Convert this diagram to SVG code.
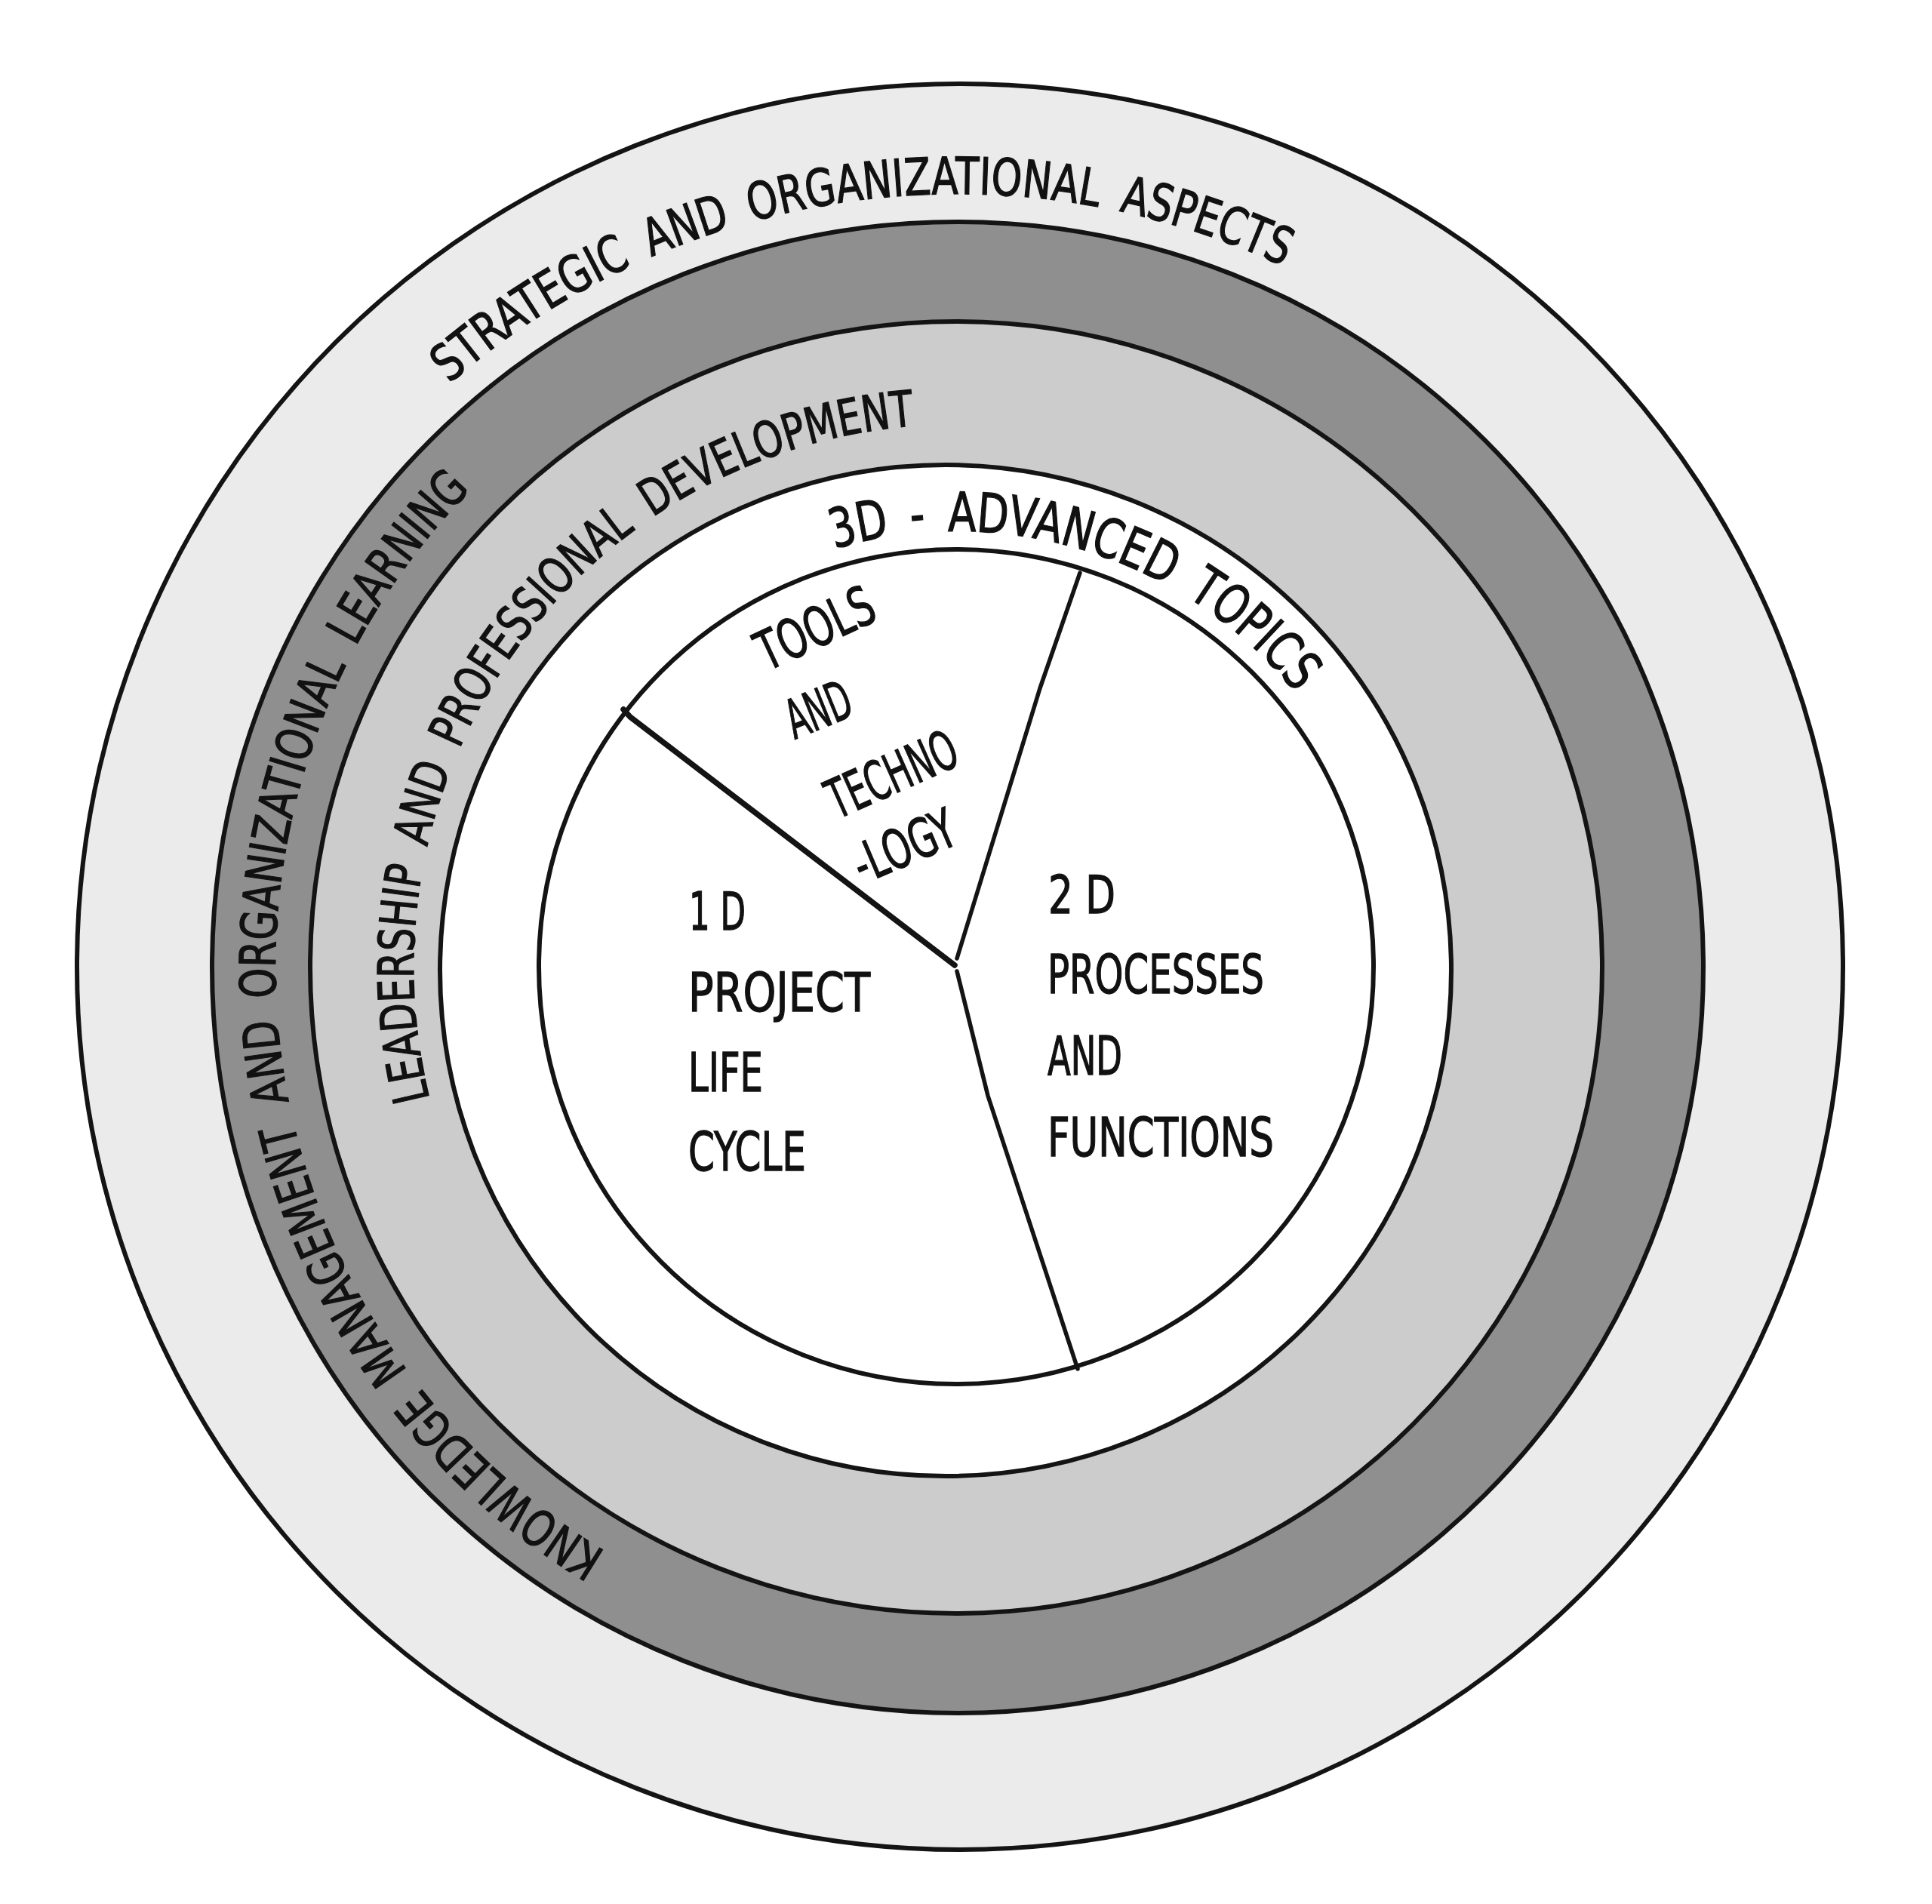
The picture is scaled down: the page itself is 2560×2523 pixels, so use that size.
<svg xmlns="http://www.w3.org/2000/svg" width="2560" height="2523" viewBox="0 0 2560 2523">
<style>
.ring{stroke:#141414;stroke-width:6}
.lbl{font-family:"Liberation Sans Narrow","DejaVu Sans Condensed","Liberation Sans",sans-serif;fill:#111111;stroke:#111111;stroke-width:1.3}
.pie{fill:none;stroke:#141414;stroke-width:5.5;stroke-linecap:round;stroke-linejoin:round}
</style>
<defs>
<path id="arc-strategic" d="M 471.5 637.0 A 1025 1025 0 0 1 1855.9 442.3"/>
<path id="arc-knowledge" d="M 944.4 2125.0 A 903 903 0 0 1 743.6 546.9"/>
<path id="arc-leadership" d="M 610.3 1574.8 A 720 720 0 0 1 1337.0 565.3"/>
<path id="arc-advanced" d="M 1011.9 763.8 A 578 578 0 0 1 1773.5 1001.8"/>
</defs>
<rect width="2560" height="2523" fill="#ffffff"/>

<g id="ring-strategic">
<circle class="ring" cx="1272" cy="1281" r="1170" fill="#ebebeb"/>
<text class="lbl" font-size="68"><textPath href="#arc-strategic" startOffset="178.9" textLength="288.8" lengthAdjust="spacingAndGlyphs">STRATEGIC</textPath></text>
<text class="lbl" font-size="68"><textPath href="#arc-strategic" startOffset="496.0" textLength="112.8" lengthAdjust="spacingAndGlyphs">AND</textPath></text>
<text class="lbl" font-size="68"><textPath href="#arc-strategic" startOffset="637.1" textLength="463.0" lengthAdjust="spacingAndGlyphs">ORGANIZATIONAL</textPath></text>
<text class="lbl" font-size="68"><textPath href="#arc-strategic" startOffset="1128.4" textLength="230.5" lengthAdjust="spacingAndGlyphs">ASPECTS</textPath></text>
</g>

<g id="ring-knowledge">
<circle class="ring" cx="1269" cy="1282" r="988" fill="#8f8f8f"/>
<text class="lbl" font-size="66"><textPath href="#arc-knowledge" startOffset="157.6" textLength="329.5" lengthAdjust="spacingAndGlyphs">KNOWLEDGE</textPath></text>
<text class="lbl" font-size="66"><textPath href="#arc-knowledge" startOffset="515.3" textLength="364.5" lengthAdjust="spacingAndGlyphs">MANAGEMENT</textPath></text>
<text class="lbl" font-size="66"><textPath href="#arc-knowledge" startOffset="908.0" textLength="110.8" lengthAdjust="spacingAndGlyphs">AND</textPath></text>
<text class="lbl" font-size="66"><textPath href="#arc-knowledge" startOffset="1047.0" textLength="454.8" lengthAdjust="spacingAndGlyphs">ORGANIZATIONAL</textPath></text>
<text class="lbl" font-size="66"><textPath href="#arc-knowledge" startOffset="1530.0" textLength="258.4" lengthAdjust="spacingAndGlyphs">LEARNING</textPath></text>
</g>

<g id="ring-leadership">
<circle class="ring" cx="1267" cy="1282" r="856" fill="#cccccc"/>
<text class="lbl" font-size="66"><textPath href="#arc-leadership" startOffset="125.7" textLength="309.2" lengthAdjust="spacingAndGlyphs">LEADERSHIP</textPath></text>
<text class="lbl" font-size="66"><textPath href="#arc-leadership" startOffset="462.6" textLength="108.8" lengthAdjust="spacingAndGlyphs">AND</textPath></text>
<text class="lbl" font-size="66"><textPath href="#arc-leadership" startOffset="599.1" textLength="377.3" lengthAdjust="spacingAndGlyphs">PROFESSIONAL</textPath></text>
<text class="lbl" font-size="66"><textPath href="#arc-leadership" startOffset="1004.1" textLength="371.7" lengthAdjust="spacingAndGlyphs">DEVELOPMENT</textPath></text>
</g>

<g id="ring-advanced">
<circle class="ring" cx="1253" cy="1286" r="670" fill="#ffffff"/>
<text class="lbl" font-size="72"><textPath href="#arc-advanced" startOffset="100.9" textLength="75.2" lengthAdjust="spacingAndGlyphs">3D</textPath></text>
<text class="lbl" font-size="72"><textPath href="#arc-advanced" startOffset="205.0" textLength="19.3" lengthAdjust="spacingAndGlyphs">-</textPath></text>
<text class="lbl" font-size="72"><textPath href="#arc-advanced" startOffset="253.2" textLength="303.5" lengthAdjust="spacingAndGlyphs">ADVANCED</textPath></text>
<text class="lbl" font-size="72"><textPath href="#arc-advanced" startOffset="585.6" textLength="194.2" lengthAdjust="spacingAndGlyphs">TOPICS</textPath></text>
</g>

<g id="core">
<circle class="ring" cx="1267" cy="1281" r="553" fill="#ffffff"/>
</g>

<g id="connectors">
<path class="pie" d="M 826 940 L 835 950 L 1265 1279" style="stroke-width:7.5"/>
<path class="pie" d="M 1431 759 L 1378 912 L 1268 1270"/>
<path class="pie" d="M 1268 1287 L 1309 1452 L 1428 1814"/>
</g>

<g id="segment-tools">
<text class="lbl" font-size="72" transform="translate(1016 890) rotate(-25)" textLength="165" lengthAdjust="spacingAndGlyphs">TOOLS</text>
<text class="lbl" font-size="72" transform="translate(1053 980) rotate(-22)" textLength="88" lengthAdjust="spacingAndGlyphs">AND</text>
<text class="lbl" font-size="72" transform="translate(1109 1086) rotate(-24)" textLength="182" lengthAdjust="spacingAndGlyphs">TECHNO</text>
<text class="lbl" font-size="72" transform="translate(1143 1172) rotate(-23)" textLength="141" lengthAdjust="spacingAndGlyphs">-LOGY</text>
</g>

<g id="segment-1d">
<text class="lbl" font-size="70" x="913" y="1232" textLength="75" lengthAdjust="spacingAndGlyphs">1 D</text>
<text class="lbl" font-size="72" x="912" y="1340" textLength="241" lengthAdjust="spacingAndGlyphs">PROJECT</text>
<text class="lbl" font-size="72" x="912" y="1446" textLength="99" lengthAdjust="spacingAndGlyphs">LIFE</text>
<text class="lbl" font-size="72" x="912" y="1551" textLength="156" lengthAdjust="spacingAndGlyphs">CYCLE</text>
</g>

<g id="segment-2d">
<text class="lbl" font-size="70" x="1389" y="1210" textLength="89" lengthAdjust="spacingAndGlyphs">2 D</text>
<text class="lbl" font-size="72" x="1388" y="1316" textLength="287" lengthAdjust="spacingAndGlyphs">PROCESSES</text>
<text class="lbl" font-size="72" x="1388" y="1424" textLength="99" lengthAdjust="spacingAndGlyphs">AND</text>
<text class="lbl" font-size="72" x="1388" y="1532" textLength="300" lengthAdjust="spacingAndGlyphs">FUNCTIONS</text>
</g>
</svg>
